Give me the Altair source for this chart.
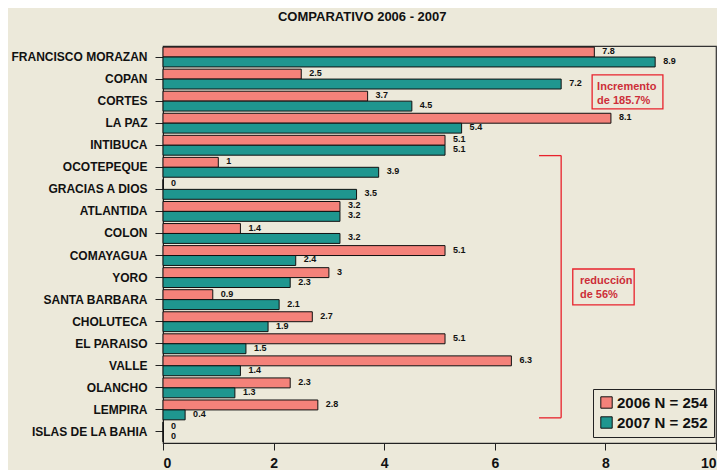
import altair as alt
import pandas as pd

departments = ["FRANCISCO MORAZAN", "COPAN", "CORTES", "LA PAZ", "INTIBUCA",
               "OCOTEPEQUE", "GRACIAS A DIOS", "ATLANTIDA", "COLON", "COMAYAGUA",
               "YORO", "SANTA BARBARA", "CHOLUTECA", "EL PARAISO", "VALLE",
               "OLANCHO", "LEMPIRA", "ISLAS DE LA BAHIA"]
rates_2006 = [7.8, 2.5, 3.7, 8.1, 5.1, 1, 0, 3.2, 1.4, 5.1, 3, 0.9, 2.7, 5.1, 6.3, 2.3, 2.8, 0]
rates_2007 = [8.9, 7.2, 4.5, 5.4, 5.1, 3.9, 3.5, 3.2, 3.2, 2.4, 2.3, 2.1, 1.9, 1.5, 1.4, 1.3, 0.4, 0]
series = ["2006 N = 254", "2007 N = 252"]
series_colors = ["#F4827A", "#1F968F"]
x_ticks = [0, 2, 4, 6, 8, 10]

# annotation geometry in data units (x: rate, y: row index from top)
box_x = [7.76, 7.41]
box_x2 = [9.04, 8.52]
box_y = [1.31, 10.11]
box_y2 = [2.85, 11.74]
note_x = [7.85, 7.54]
note_y = [1.86, 10.65]
note_text = [["Incremento", "de 185.7%"], ["reducción", "de 56%"]]
bracket_x = [6.80, 7.20, 6.80]
bracket_x2 = [7.20, 7.20, 7.20]
bracket_y = [4.97, 4.97, 16.86]
bracket_y2 = [4.97, 16.86, 16.86]

FONT = "Liberation Sans"
BG = "#ECE9DA"
RED = "#CC2E38"

rows = []
for d, a, b in zip(departments, rates_2006, rates_2007):
    rows.append({"dept": d, "series": series[0], "value": a, "label": f"{a:g}"})
    rows.append({"dept": d, "series": series[1], "value": b, "label": f"{b:g}"})
df = pd.DataFrame(rows)

y_enc = alt.Y("dept:N", sort=departments, title=None,
              scale=alt.Scale(paddingInner=0.1, paddingOuter=0.05),
              axis=alt.Axis(labelFont=FONT, labelFontSize=12, labelFontWeight="bold",
                            labelColor="#111", tickSize=8, tickColor="#222",
                            labelPadding=8, domainColor="#222",
                            minExtent=155, maxExtent=155))
x_enc = alt.X("value:Q", title=None,
              scale=alt.Scale(domain=[0, 10], nice=False),
              axis=alt.Axis(values=x_ticks, grid=False, labelFont=FONT, labelFontSize=14,
                            labelFontWeight="bold", labelColor="#111", tickSize=7,
                            tickColor="#222", domainColor="#222", labelPadding=6,
                            format="d"))
yoff = alt.YOffset("series:N", sort=series)

bars = alt.Chart(df).mark_bar(stroke="#111", strokeWidth=1).encode(
    x=x_enc, y=y_enc, yOffset=yoff,
    color=alt.Color("series:N", sort=series,
                    scale=alt.Scale(domain=series, range=series_colors),
                    legend=alt.Legend(title=None, orient="none", legendX=430, legendY=343,
                                      labelFont=FONT, labelFontSize=15,
                                      labelFontWeight="bold", labelColor="#111",
                                      symbolType="square", symbolSize=130,
                                      symbolStrokeColor="#111", symbolStrokeWidth=1,
                                      strokeColor="#222", fillColor=BG, padding=6,
                                      rowPadding=3, labelOffset=3)),
)

labels = alt.Chart(df).mark_text(align="left", baseline="middle", dx=8, dy=-1,
                                 font=FONT, fontSize=9, fontWeight="bold",
                                 color="#111").encode(
    x="value:Q", y=alt.Y("dept:N", sort=departments), yOffset=yoff, text="label:N")

main = alt.layer(bars, labels)

# annotations on a row-index scale
yq = alt.Scale(domain=[0, 18], reverse=True, nice=False, zero=False)
boxes_df = pd.DataFrame({"x": box_x, "x2": box_x2, "y": box_y, "y2": box_y2})
notes_df = pd.DataFrame({"x": note_x, "y": note_y, "t": note_text})
brk_df = pd.DataFrame({"x": bracket_x, "x2": bracket_x2, "y": bracket_y, "y2": bracket_y2})

boxes = alt.Chart(boxes_df).mark_rect(fill=None, stroke="#E8222C", strokeWidth=1.3).encode(
    x=alt.X("x:Q", scale=alt.Scale(domain=[0, 10], nice=False)), x2="x2",
    y=alt.Y("y:Q", scale=yq, axis=None), y2="y2")
notes = alt.Chart(notes_df).mark_text(align="left", baseline="middle", font=FONT,
                                      fontSize=11, fontWeight="bold", color=RED,
                                      lineHeight=14).encode(
    x=alt.X("x:Q", scale=alt.Scale(domain=[0, 10], nice=False)),
    y=alt.Y("y:Q", scale=yq, axis=None), text="t")
bracket = alt.Chart(brk_df).mark_rule(color="#E8222C", strokeWidth=1.3).encode(
    x=alt.X("x:Q", scale=alt.Scale(domain=[0, 10], nice=False)), x2="x2",
    y=alt.Y("y:Q", scale=yq, axis=None), y2="y2")

annot = alt.layer(boxes, notes, bracket)

chart = alt.layer(main, annot).resolve_scale(y="independent").properties(
    width=553, height=397,
    padding={"left": 0, "top": 3, "right": 0, "bottom": 0},
    background=BG,
    title=alt.TitleParams("COMPARATIVO 2006 - 2007", font=FONT, fontSize=13,
                          fontWeight="bold", color="#111", anchor="middle",
                          frame="bounds", offset=22),
).configure_view(stroke="#333", strokeWidth=1.2, fill=BG)

chart.save("out.html", embed_options={"renderer": "svg", "actions": False})
